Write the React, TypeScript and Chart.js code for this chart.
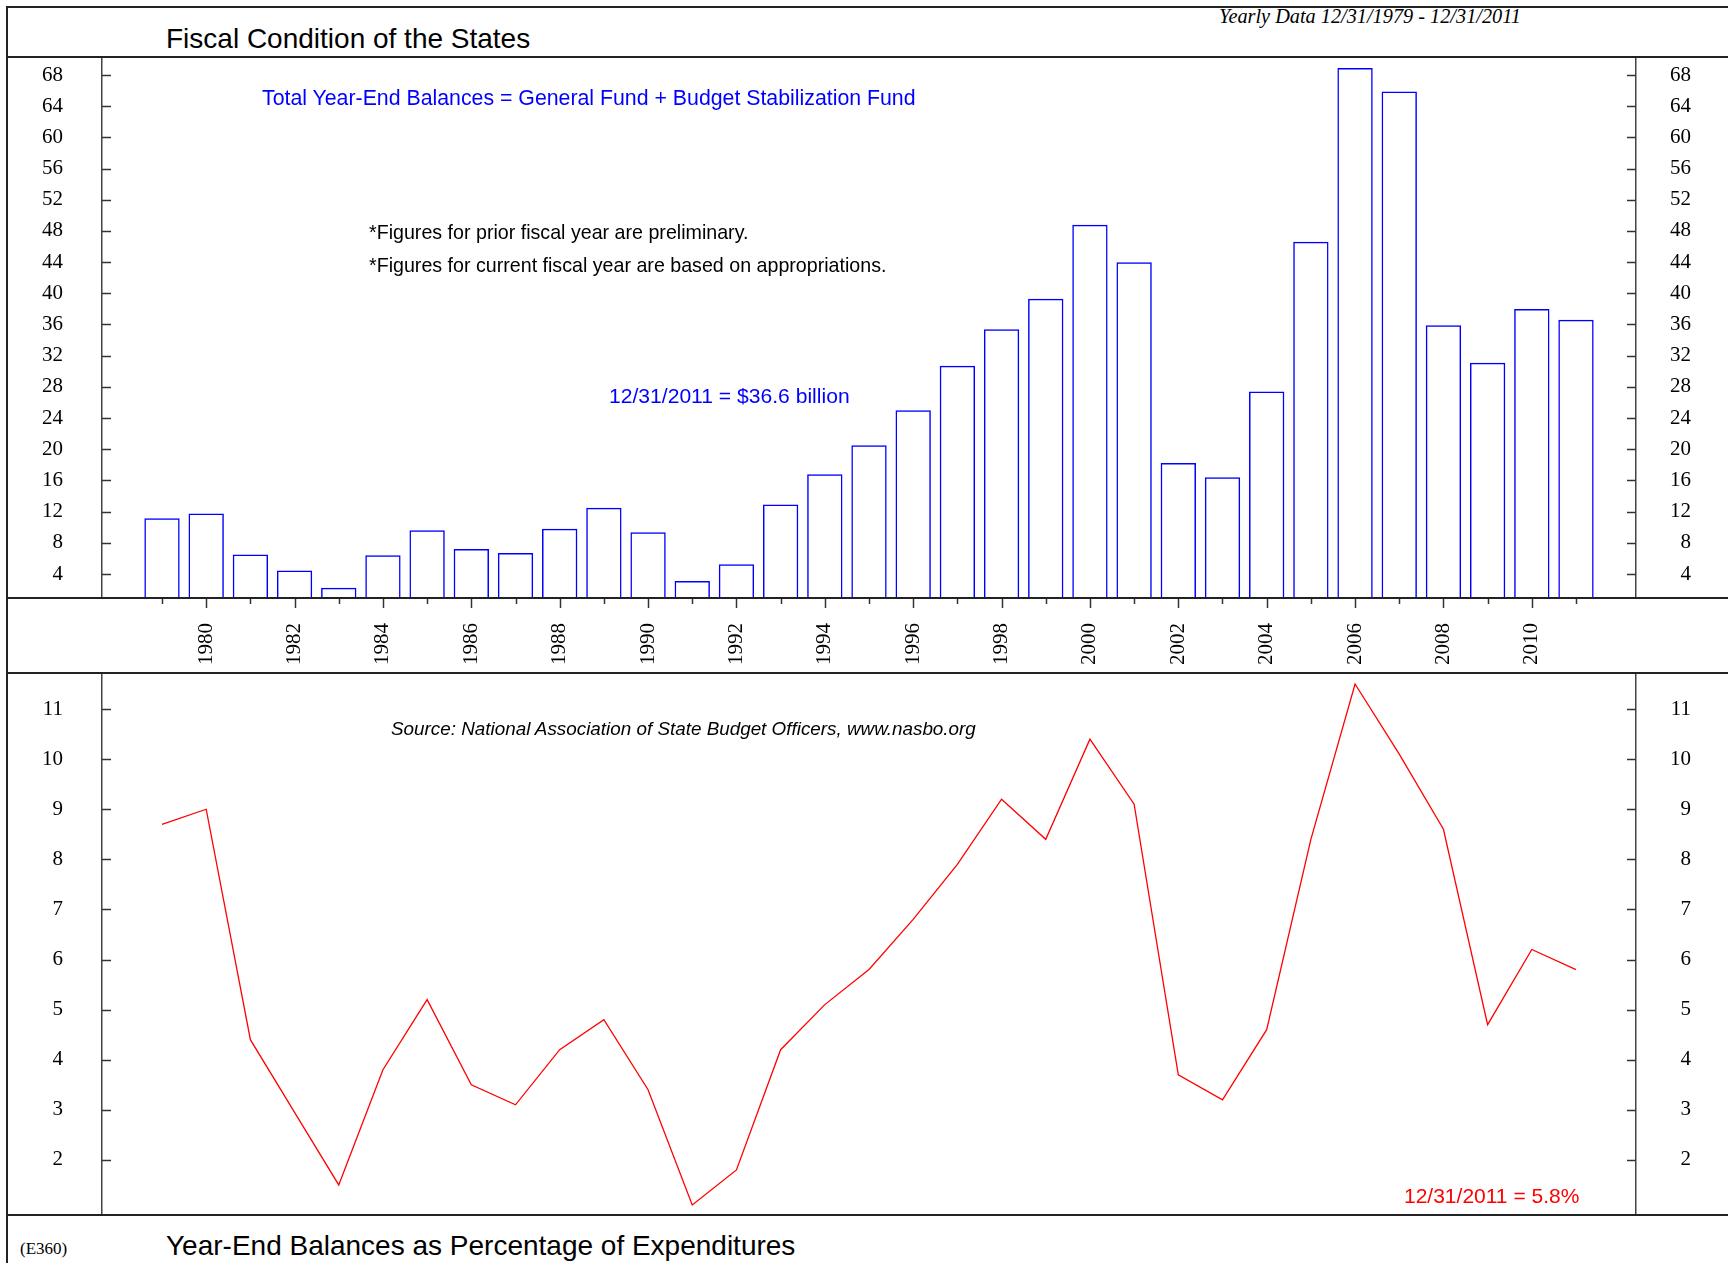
import React, { useEffect, useRef } from "react";
import { Chart, registerables } from "chart.js";

Chart.register(...registerables);

// ---------- data ----------
const years = [
  1979, 1980, 1981, 1982, 1983, 1984, 1985, 1986, 1987, 1988, 1989, 1990, 1991,
  1992, 1993, 1994, 1995, 1996, 1997, 1998, 1999, 2000, 2001, 2002, 2003, 2004,
  2005, 2006, 2007, 2008, 2009, 2010, 2011,
];
// Total year-end balances, $ billions
const balances = [
  11.15, 11.75, 6.5, 4.45, 2.25, 6.4, 9.6, 7.2, 6.7, 9.8, 12.5, 9.35, 3.1,
  5.25, 12.9, 16.8, 20.5, 25.0, 30.7, 35.4, 39.3, 48.8, 44.0, 18.25, 16.4, 27.4,
  46.6, 68.9, 65.9, 35.9, 31.1, 38.0, 36.6,
];
// Year-end balances as % of expenditures
const percentages = [
  8.7, 9.0, 4.4, 2.95, 1.5, 3.8, 5.2, 3.5, 3.1, 4.2, 4.8, 3.4, 1.1,
  1.8, 4.2, 5.1, 5.8, 6.8, 7.9, 9.2, 8.4, 10.4, 9.1, 3.7, 3.2, 4.6,
  8.4, 11.5, 10.1, 8.6, 4.7, 6.2, 5.8,
];
const yearLabels = [
  1980, 1982, 1984, 1986, 1988, 1990, 1992, 1994, 1996, 1998, 2000, 2002, 2004,
  2006, 2008, 2010,
];
const balanceTicks = [4, 8, 12, 16, 20, 24, 28, 32, 36, 40, 44, 48, 52, 56, 60, 64, 68];
const pctTicks = [2, 3, 4, 5, 6, 7, 8, 9, 10, 11];

const X_MIN = 1977.642;
const X_MAX = 2012.358;
const BAL_MIN = 0.92;
const BAL_MAX = 70.31;
const PCT_MIN = 0.9;
const PCT_MAX = 11.72;

const SERIF = "'Liberation Serif', 'Times New Roman', serif";
const SANS = "'Liberation Sans', Arial, sans-serif";

const axisTicksPlugin = {
  id: "axisTicks",
  afterDraw(chart: any, _args: any, opts: any) {
    const { ctx, chartArea } = chart;
    const ys = chart.scales.y;
    ctx.save();
    ctx.strokeStyle = "#333";
    ctx.lineWidth = 1.5;
    const line = (x1: number, y1: number, x2: number, y2: number) => {
      ctx.beginPath();
      ctx.moveTo(x1, y1);
      ctx.lineTo(x2, y2);
      ctx.stroke();
    };
    for (const t of ys.ticks) {
      const py = Math.round(ys.getPixelForValue(t.value)) + 0.5;
      line(chartArea.left, py, chartArea.left + 9, py);
      line(chartArea.right - 9, py, chartArea.right, py);
    }
    if (opts && opts.xTicks) {
      const xs = chart.scales.x;
      for (const yr of years) {
        const px = Math.round(xs.getPixelForValue(yr)) + 0.5;
        const len = yearLabels.includes(yr) ? 10 : 6;
        line(px, chartArea.bottom, px, chartArea.bottom + len);
      }
    }
    ctx.restore();
  },
};

const zeroPad = (s: any) => {
  s.paddingTop = 0;
  s.paddingBottom = 0;
  s.paddingLeft = 0;
  s.paddingRight = 0;
};

function yAxes(min: number, max: number, ticks: number[]) {
  const tickFont = { family: SERIF, size: 21 };
  return {
    y: {
      position: "left",
      min,
      max,
      afterBuildTicks: (s: any) => {
        s.ticks = ticks.map((v) => ({ value: v }));
      },
      afterFit: (s: any) => {
        s.width = 102;
        zeroPad(s);
      },
      ticks: { padding: 39, font: tickFont, color: "#000", autoSkip: false },
      grid: { display: true, drawOnChartArea: false, drawTicks: false },
      border: { display: true, color: "#444", width: 1.5 },
    },
    y2: {
      position: "right",
      min,
      max,
      afterBuildTicks: (s: any) => {
        s.ticks = ticks.map((v) => ({ value: v }));
      },
      afterFit: (s: any) => {
        s.width = 55;
        zeroPad(s);
      },
      ticks: { padding: 10, font: tickFont, color: "#000", crossAlign: "far", autoSkip: false },
      grid: { display: true, drawOnChartArea: false, drawTicks: false },
      border: { display: true, color: "#444", width: 1.5 },
    },
  };
}

function Text(props: {
  text: string;
  left: number;
  baseline: number;
  size: number;
  color?: string;
  serif?: boolean;
  italic?: boolean;
}) {
  const asc = props.serif ? 0.8375 : 0.8465;
  return (
    <div
      style={{
        position: "absolute",
        left: props.left,
        top: props.baseline - asc * props.size,
        fontFamily: props.serif ? SERIF : SANS,
        fontSize: props.size,
        lineHeight: 1,
        fontStyle: props.italic ? "italic" : "normal",
        color: props.color || "#000",
        whiteSpace: "nowrap",
      }}
    >
      {props.text}
    </div>
  );
}

function HLine({ top }: { top: number }) {
  return (
    <div
      style={{
        position: "absolute",
        left: 6,
        top,
        width: 1722,
        height: 2,
        background: "#222",
      }}
    />
  );
}

export default function App() {
  const topRef = useRef<HTMLCanvasElement | null>(null);
  const botRef = useRef<HTMLCanvasElement | null>(null);

  useEffect(() => {
    document.body.style.margin = "0";
    document.body.style.background = "#fff";
    const topChart = new Chart(topRef.current as HTMLCanvasElement, {
      type: "bar",
      data: {
        datasets: [
          {
            data: years.map((y, i) => ({ x: y, y: balances[i] })),
            borderColor: "#0000ff",
            backgroundColor: "rgba(255,255,255,0)",
            borderWidth: 1.5,
            barPercentage: 0.8,
            categoryPercentage: 1.0,
            borderSkipped: "start",
          },
        ],
      },
      options: {
        animation: false,
        responsive: false,
        devicePixelRatio: 1,
        layout: { padding: { left: 0, top: 0, bottom: 0, right: 37 } },
        plugins: {
          legend: { display: false },
          tooltip: { enabled: false },
          axisTicks: { xTicks: true },
        } as any,
        scales: {
          x: {
            type: "linear",
            position: "bottom",
            offset: false,
            min: X_MIN,
            max: X_MAX,
            afterBuildTicks: (s: any) => {
              s.ticks = years.map((v) => ({ value: v }));
            },
            afterFit: (s: any) => {
              s.height = 74;
              zeroPad(s);
            },
            ticks: {
              autoSkip: false,
              maxRotation: 90,
              minRotation: 90,
              padding: 25,
              font: { family: SERIF, size: 21 },
              color: "#000",
              callback: (v: any) => (yearLabels.includes(Number(v)) ? String(v) : ""),
            },
            grid: { display: true, offset: false, drawOnChartArea: false, drawTicks: false },
            border: { display: true, color: "#333", width: 2 },
          },
          ...yAxes(BAL_MIN, BAL_MAX, balanceTicks),
        } as any,
      },
      plugins: [axisTicksPlugin],
    });

    const botChart = new Chart(botRef.current as HTMLCanvasElement, {
      type: "line",
      data: {
        datasets: [
          {
            data: years.map((y, i) => ({ x: y, y: percentages[i] })),
            borderColor: "#ff0000",
            borderWidth: 1.3,
            pointRadius: 0,
            tension: 0,
            fill: false,
          },
        ],
      },
      options: {
        animation: false,
        responsive: false,
        devicePixelRatio: 1,
        layout: { padding: { left: 0, top: 0, bottom: 0, right: 37 } },
        plugins: {
          legend: { display: false },
          tooltip: { enabled: false },
          axisTicks: { xTicks: false },
        } as any,
        scales: {
          x: {
            type: "linear",
            display: false,
            offset: false,
            min: X_MIN,
            max: X_MAX,
          },
          ...yAxes(PCT_MIN, PCT_MAX, pctTicks),
        } as any,
      },
      plugins: [axisTicksPlugin],
    });

    return () => {
      topChart.destroy();
      botChart.destroy();
    };
  }, []);

  return (
    <div
      style={{
        position: "relative",
        width: 1728,
        height: 1263,
        background: "#fff",
        overflow: "hidden",
      }}
    >
      <canvas
        ref={topRef}
        width={1728}
        height={615}
        style={{ position: "absolute", left: 0, top: 57, width: 1728, height: 615 }}
      />
      <canvas
        ref={botRef}
        width={1728}
        height={542}
        style={{ position: "absolute", left: 0, top: 673, width: 1728, height: 542 }}
      />

      <HLine top={6} />
      <HLine top={56} />
      <HLine top={597} />
      <HLine top={672} />
      <HLine top={1214} />
      <div
        style={{
          position: "absolute",
          left: 6,
          top: 6,
          width: 2,
          height: 1257,
          background: "#222",
        }}
      />

      <Text text="Fiscal Condition of the States" left={166} baseline={48.5} size={28} />
      <Text
        text="Yearly Data 12/31/1979 - 12/31/2011"
        left={1219}
        baseline={23}
        size={20.3}
        serif
        italic
      />
      <Text
        text="Total Year-End Balances = General Fund + Budget Stabilization Fund"
        left={262}
        baseline={105.6}
        size={21.3}
        color="#0000ff"
      />
      <Text
        text="*Figures for prior fiscal year are preliminary."
        left={369}
        baseline={239.6}
        size={19.65}
      />
      <Text
        text="*Figures for current fiscal year are based on appropriations."
        left={369}
        baseline={272.8}
        size={19.65}
      />
      <Text
        text="12/31/2011 = $36.6 billion"
        left={609}
        baseline={403}
        size={21.1}
        color="#0000ff"
      />
      <Text
        text="Source: National Association of State Budget Officers, www.nasbo.org"
        left={391}
        baseline={736.4}
        size={18.85}
        italic
      />
      <Text
        text="12/31/2011 = 5.8%"
        left={1404}
        baseline={1203}
        size={21}
        color="#ff0000"
      />
      <Text text="(E360)" left={20} baseline={1254} size={17} serif />
      <Text
        text="Year-End Balances as Percentage of Expenditures"
        left={166}
        baseline={1256}
        size={28}
      />
    </div>
  );
}
